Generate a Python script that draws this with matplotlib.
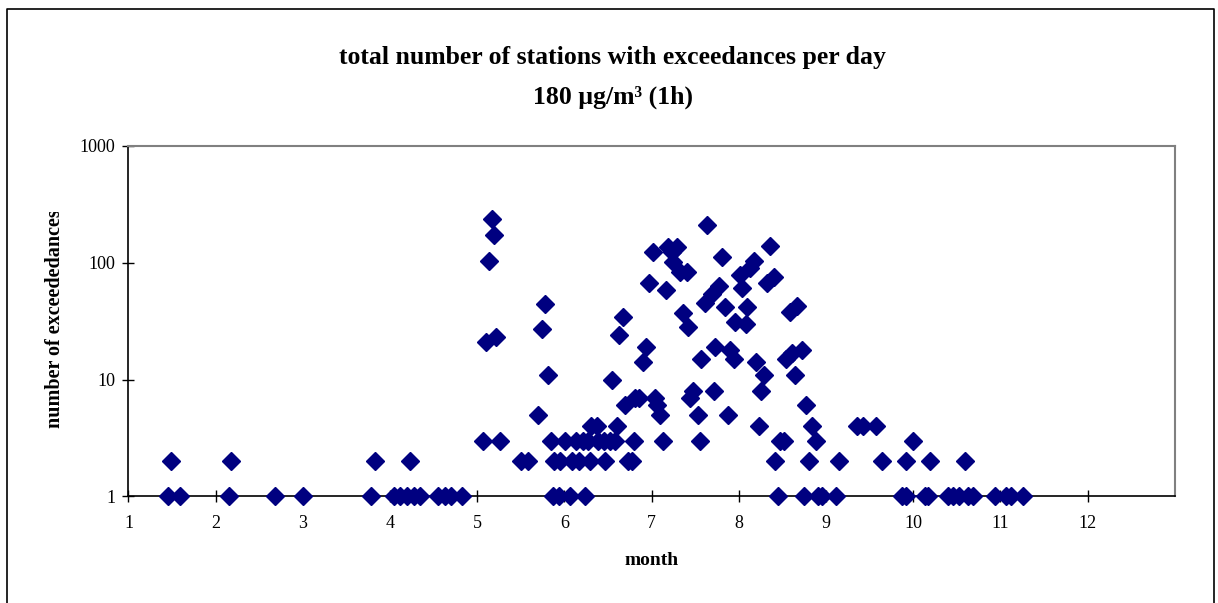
import numpy as np
import matplotlib.pyplot as plt
from matplotlib.lines import Line2D
from matplotlib.transforms import Bbox

# day position expressed as month (1 = Jan 1st) and number of stations
month = [1.45, 1.49, 1.59, 2.15, 2.17, 2.68, 3.00, 3.78, 3.83, 4.04,
         4.11, 4.19, 4.23, 4.27, 4.34, 4.55, 4.63, 4.70, 4.83,
         5.07, 5.10, 5.13, 5.17, 5.19, 5.22, 5.26, 5.50, 5.58,
         5.70, 5.74, 5.78, 5.81, 5.85, 5.87, 5.88, 5.94, 5.95,
         6.01, 6.06, 6.09, 6.13, 6.17, 6.21, 6.24, 6.27, 6.29,
         6.31, 6.37, 6.39, 6.45, 6.47, 6.52, 6.54, 6.58, 6.60,
         6.63, 6.67, 6.70, 6.73, 6.77, 6.80, 6.81, 6.86, 6.90,
         6.94, 6.97, 7.01, 7.04, 7.06, 7.10, 7.13, 7.16, 7.19,
         7.23, 7.25, 7.29, 7.33, 7.36, 7.40, 7.42, 7.44, 7.48,
         7.53, 7.56, 7.57, 7.61, 7.64, 7.69, 7.71, 7.73, 7.77,
         7.81, 7.84, 7.88, 7.90, 7.94, 7.96, 8.01, 8.04, 8.08,
         8.09, 8.13, 8.17, 8.20, 8.23, 8.25, 8.29, 8.32, 8.36,
         8.40, 8.41, 8.45, 8.47, 8.52, 8.54, 8.59, 8.61, 8.64,
         8.67, 8.72, 8.75, 8.77, 8.81, 8.84, 8.88, 8.91, 8.95,
         9.11, 9.15, 9.35, 9.43, 9.57, 9.64, 9.87, 9.92, 9.92,
         10.00, 10.13, 10.17, 10.19, 10.40, 10.46, 10.52, 10.59,
         10.63, 10.69, 10.94, 11.07, 11.12, 11.26]
stations = [1, 2, 1, 1, 2, 1, 1, 1, 2, 1,
            1, 1, 2, 1, 1, 1, 1, 1, 1,
            3, 21, 103, 235, 174, 23, 3, 2, 2,
            5, 27, 44, 11, 3, 1, 2, 1, 2,
            3, 1, 2, 3, 2, 3, 1, 3, 2,
            4, 4, 3, 3, 2, 3, 10, 3, 4,
            24, 34, 6, 2, 2, 3, 7, 7, 14,
            19, 67, 124, 7, 6, 5, 3, 59, 137,
            124, 102, 137, 83, 37, 83, 28, 7, 8,
            5, 3, 15, 45, 209, 54, 8, 19, 63,
            113, 42, 5, 18, 15, 31, 78, 61, 30,
            42, 90, 104, 14, 4, 8, 11, 67, 139,
            76, 2, 1, 3, 3, 15, 38, 17, 11,
            43, 18, 1, 6, 2, 4, 3, 1, 1,
            1, 2, 4, 4, 4, 2, 1, 1, 2,
            3, 1, 1, 2, 1, 1, 1, 2,
            1, 1, 1, 1, 1, 1]

x_ticks = list(range(1, 13))
y_ticks = [1, 10, 100, 1000]

plt.rcParams['font.family'] = ['Liberation Serif', 'DejaVu Serif']

fig = plt.figure(figsize=(12.18, 6.03), dpi=100)
ax = fig.add_axes([0.1055, 0.1769, 0.859, 0.581])

ax.plot(month, stations, linestyle='none', marker='D', markersize=9,
        color='#000080', clip_on=False, zorder=3)

ax.set_yscale('log')
ax.set_ylim(1, 1000)
ax.set_xlim(1, 13)
ax.set_xticks(x_ticks)
ax.set_xticklabels([str(t) for t in x_ticks])
ax.set_yticks(y_ticks)
ax.set_yticklabels([str(t) for t in y_ticks])
ax.minorticks_off()
ax.tick_params(direction='inout', length=9, width=1, labelsize=13)
ax.tick_params(axis='x', pad=9)
ax.tick_params(axis='y', pad=5)

for s in ['top', 'right']:
    ax.spines[s].set_color('#808080')
    ax.spines[s].set_linewidth(1.5)
for s in ['left', 'bottom']:
    ax.spines[s].set_color('black')
    ax.spines[s].set_linewidth(1.2)

ax.set_xlabel('month', fontsize=14, fontweight='bold', labelpad=14)

# y label, its last letter is cut off in the original chart
ylab = fig.text(0.0452, 0.471, 'number of exceededances', rotation=90,
                fontsize=14.5, fontweight='bold', ha='center', va='center')
ylab.set_clip_box(Bbox.from_extents(0, 0, 1218, 603 - 212))
ylab.set_clip_on(True)

fig.text(0.503, 0.905, 'total number of stations with exceedances per day',
         fontsize=18.5, fontweight='bold', ha='center', va='center')
fig.text(0.503, 0.838, '180 µg/m³ (1h)',
         fontsize=18.5, fontweight='bold', ha='center', va='center')

# outer chart border
fig.add_artist(Line2D([0.0057, 0.0057, 0.997, 0.997], [0, 0.985, 0.985, 0],
                      color='black', linewidth=1.2, transform=fig.transFigure))

fig.savefig('out.png', dpi=100)
